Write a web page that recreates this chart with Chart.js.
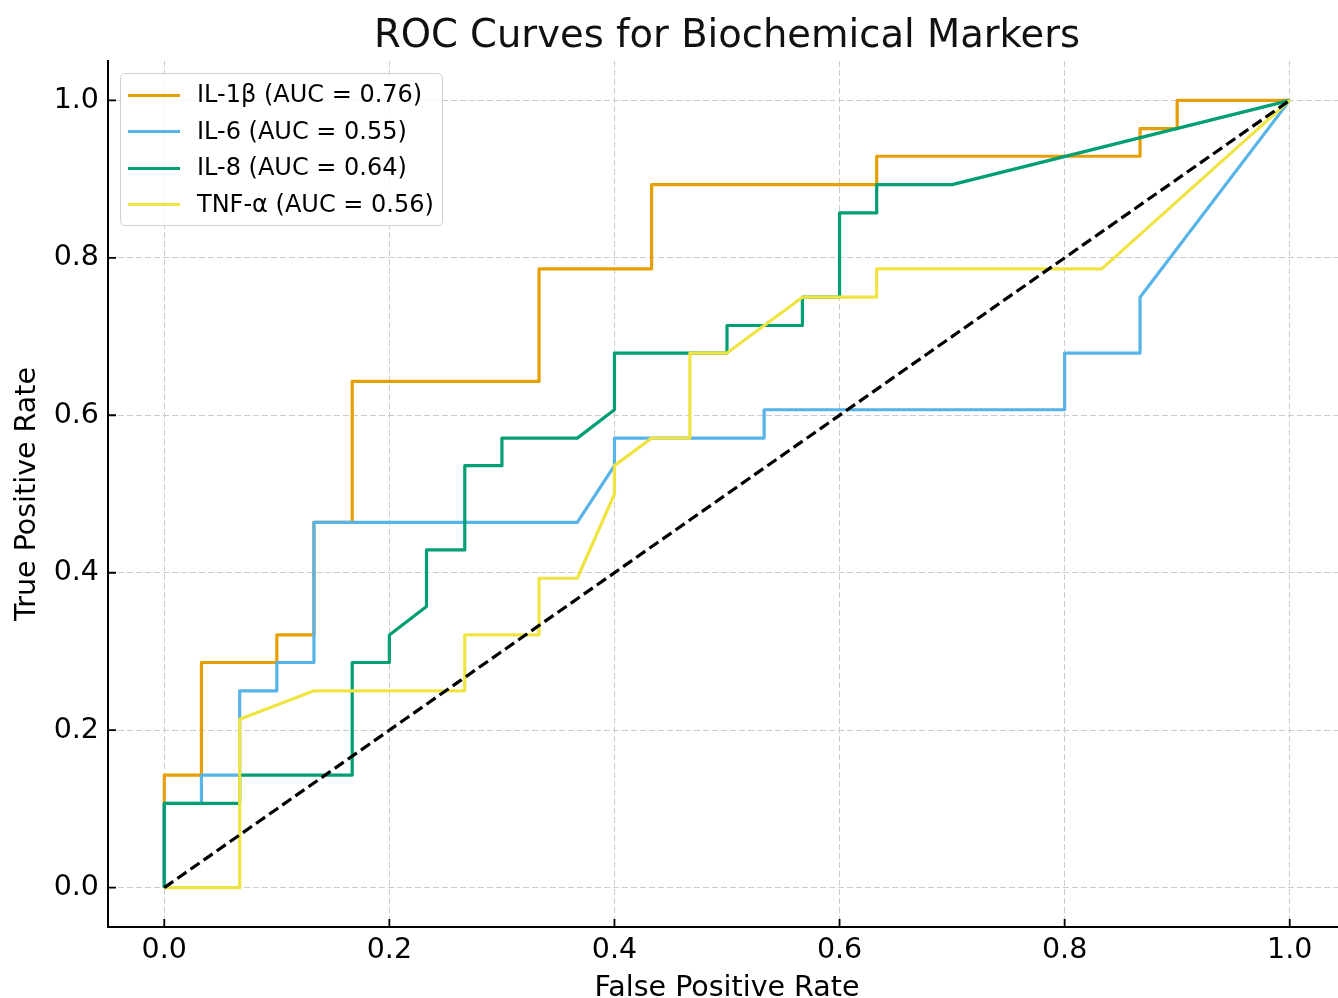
<!DOCTYPE html>
<html lang="en">
<head>
  <meta charset="UTF-8">
  <title>ROC Curves for Biochemical Markers</title>
  <script src="https://cdn.jsdelivr.net/npm/chart.js"></script>
  <style>
    body {
      margin: 0;
      overflow: hidden;
      background: #fff;
      font-family: "DejaVu Sans", sans-serif;
    }
    #wrap {
      position: relative;
      width: 1454px;
      height: 998px;
    }
    #legend {
      position: absolute;
      left: 120px;
      top: 73px;
      width: 321px;
      height: 149px;
      padding-top: 2px;
      box-sizing: content-box;
      border: 1px solid #d0d0d0;
      border-radius: 5px;
      background: rgba(255, 255, 255, 0.8);
      font-size: 24px;
      color: #000;
    }
    .item {
      height: 36.5px;
      line-height: 36.5px;
      white-space: nowrap;
    }
    .swatch {
      display: inline-block;
      width: 52px;
      height: 3px;
      margin: 0 17px 0 7px;
      vertical-align: middle;
    }
  </style>
</head>
<body>
  <div id="wrap">
    <canvas id="rocChart" width="1454" height="998"></canvas>
    <div id="legend"></div>
  </div>

  <script>
    // values
    const seriesNames = ['IL-1β (AUC = 0.76)', 'IL-6 (AUC = 0.55)', 'IL-8 (AUC = 0.64)', 'TNF-α (AUC = 0.56)'];
    const seriesColors = ['#E69F00', '#56B4E9', '#009E73', '#F0E442'];

    const il1bFpr = [0, 0, 0.033, 0.033, 0.1, 0.1, 0.133, 0.133, 0.167, 0.167, 0.333, 0.333, 0.433, 0.433, 0.633, 0.633, 0.867, 0.867, 0.9, 0.9, 1.0];
    const il1bTpr = [0, 0.143, 0.143, 0.286, 0.286, 0.321, 0.321, 0.464, 0.464, 0.643, 0.643, 0.786, 0.786, 0.893, 0.893, 0.929, 0.929, 0.964, 0.964, 1.0, 1.0];

    const il6Fpr = [0, 0, 0.033, 0.033, 0.067, 0.067, 0.1, 0.1, 0.133, 0.133, 0.367, 0.4, 0.4, 0.533, 0.533, 0.8, 0.8, 0.867, 0.867, 1.0];
    const il6Tpr = [0, 0.107, 0.107, 0.143, 0.143, 0.25, 0.25, 0.286, 0.286, 0.464, 0.464, 0.536, 0.571, 0.571, 0.607, 0.607, 0.679, 0.679, 0.75, 1.0];

    const il8Fpr = [0, 0, 0.067, 0.067, 0.167, 0.167, 0.2, 0.2, 0.233, 0.233, 0.267, 0.267, 0.3, 0.3, 0.367, 0.4, 0.4, 0.5, 0.5, 0.567, 0.567, 0.6, 0.6, 0.633, 0.633, 0.7, 1.0];
    const il8Tpr = [0, 0.107, 0.107, 0.143, 0.143, 0.286, 0.286, 0.321, 0.357, 0.429, 0.429, 0.536, 0.536, 0.571, 0.571, 0.607, 0.679, 0.679, 0.714, 0.714, 0.75, 0.75, 0.857, 0.857, 0.893, 0.893, 1.0];

    const tnfFpr = [0, 0.067, 0.067, 0.133, 0.267, 0.267, 0.333, 0.333, 0.367, 0.4, 0.4, 0.433, 0.467, 0.467, 0.5, 0.567, 0.633, 0.633, 0.833, 1.0];
    const tnfTpr = [0, 0, 0.214, 0.25, 0.25, 0.321, 0.321, 0.393, 0.393, 0.5, 0.536, 0.571, 0.571, 0.679, 0.679, 0.75, 0.75, 0.786, 0.786, 1.0];

    const chanceX = [0, 1];
    const chanceY = [0, 1];

    const tickVals = [0, 0.2, 0.4, 0.6, 0.8, 1.0];

    function toPoints(xs, ys) {
      return xs.map((x, i) => ({ x: x, y: ys[i] }));
    }

    const curves = [[il1bFpr, il1bTpr], [il6Fpr, il6Tpr], [il8Fpr, il8Tpr], [tnfFpr, tnfTpr]];

    const datasets = curves.map((c, i) => ({
      label: seriesNames[i],
      data: toPoints(c[0], c[1]),
      borderColor: seriesColors[i],
      borderWidth: 3.2,
      borderJoinStyle: 'round',
      pointRadius: 0,
      showLine: true,
      order: 4 - i
    }));
    datasets.push({
      label: 'chance',
      data: toPoints(chanceX, chanceY),
      borderColor: '#000',
      borderWidth: 3.2,
      borderDash: [11, 5],
      pointRadius: 0,
      showLine: true,
      order: 0
    });

    // legend as html, top-left inside the plot
    const legend = document.getElementById('legend');
    seriesNames.forEach((name, i) => {
      const row = document.createElement('div');
      row.className = 'item';
      row.innerHTML = '<span class="swatch" style="background:' + seriesColors[i] + '"></span>' + name;
      legend.appendChild(row);
    });

    // matplotlib style inward tick marks
    const innerTicks = {
      id: 'innerTicks',
      afterDraw(chart) {
        const { ctx, chartArea, scales } = chart;
        ctx.save();
        ctx.strokeStyle = '#000';
        ctx.lineWidth = 1.8;
        ctx.beginPath();
        tickVals.forEach(v => {
          const x = scales.x.getPixelForValue(v);
          ctx.moveTo(x, chartArea.bottom);
          ctx.lineTo(x, chartArea.bottom - 8);
          const y = scales.y.getPixelForValue(v);
          ctx.moveTo(chartArea.left, y);
          ctx.lineTo(chartArea.left + 8, y);
        });
        ctx.stroke();
        ctx.restore();
      }
    };

    const setTicks = scale => { scale.ticks = tickVals.map(v => ({ value: v })); };
    const gridOpts = { color: '#cccccc', lineWidth: 1, drawTicks: false };

    const ctx = document.getElementById('rocChart').getContext('2d');
    new Chart(ctx, {
      type: 'scatter',
      data: { datasets: datasets },
      plugins: [innerTicks],
      options: {
        responsive: false,
        animation: false,
        devicePixelRatio: 1,
        layout: { padding: 0 },
        scales: {
          x: {
            type: 'linear',
            min: -0.05,
            max: 1.05,
            afterBuildTicks: setTicks,
            afterFit: scale => { scale.height = 71; },
            grid: gridOpts,
            border: { display: true, color: '#000', width: 2, dash: [6, 3] },
            ticks: {
              color: '#000',
              padding: 6,
              font: { family: 'DejaVu Sans', size: 28.5 },
              callback: v => v.toFixed(1)
            },
            title: {
              display: true,
              text: 'False Positive Rate',
              color: '#000',
              font: { family: 'DejaVu Sans', size: 28.5 },
              padding: { top: 0, bottom: -8 }
            }
          },
          y: {
            type: 'linear',
            min: -0.05,
            max: 1.05,
            afterBuildTicks: setTicks,
            afterFit: scale => { scale.width = 108; },
            grid: gridOpts,
            border: { display: true, color: '#000', width: 2, dash: [6, 3] },
            ticks: {
              color: '#000',
              padding: 9,
              font: { family: 'DejaVu Sans', size: 28.5 },
              callback: v => v.toFixed(1)
            },
            title: {
              display: true,
              text: 'True Positive Rate',
              color: '#000',
              font: { family: 'DejaVu Sans', size: 28.5 },
              padding: { top: 10, bottom: 0 }
            }
          },
          yRight: {
            type: 'linear',
            position: 'right',
            display: true,
            afterFit: scale => { scale.width = 108; },
            grid: { display: false, drawOnChartArea: false },
            border: { display: false },
            ticks: { display: false }
          }
        },
        plugins: {
          legend: { display: false },
          tooltip: { enabled: false },
          title: {
            display: true,
            text: 'ROC Curves for Biochemical Markers',
            color: '#111',
            font: { family: 'DejaVu Sans', size: 38.5, weight: 'normal', lineHeight: 1.2 },
            padding: { top: 14, bottom: 0.8 }
          }
        }
      }
    });
  </script>
</body>
</html>
